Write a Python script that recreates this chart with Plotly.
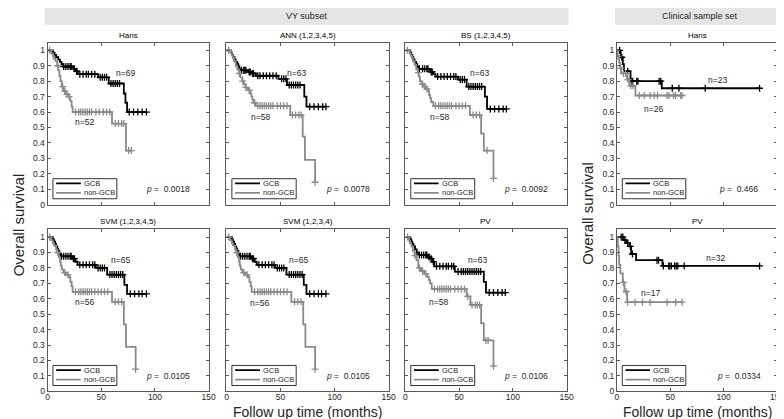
import plotly.graph_objects as go

# ---------------- data ----------------
panel_titles = ["Hans", "ANN (1,2,3,4,5)", "BS (1,2,3,4,5)", "Hans",
                "SVM (1,2,3,4,5)", "SVM (1,2,3,4)", "PV", "PV"]
group_names = ["GCB", "non-GCB"]
gcb_n = [69, 63, 63, 23, 65, 65, 63, 32]
ngcb_n = [52, 58, 58, 26, 56, 56, 58, 17]
p_values = ["0.0018", "0.0078", "0.0092", "0.466", "0.0105", "0.0105", "0.0106", "0.0334"]
header_labels = ["VY subset", "Clinical sample set"]
x_tick_vals = [0, 50, 100, 150]
y_tick_vals = [0, 0.1, 0.2, 0.3, 0.4, 0.5, 0.6, 0.7, 0.8, 0.9, 1]
y_tick_text = ["0", "0.1", "0.2", "0.3", "0.4", "0.5", "0.6", "0.7", "0.8", "0.9", "1"]
x_title = "Follow up time (months)"
y_title = "Overall survival"

# Hans (VY subset)
hans_gcb_t = [5, 6.5, 8, 10, 11.5, 13, 14.5, 24, 26, 28, 47, 57, 71, 72.5, 74]
hans_gcb_s = [0.985, 0.97, 0.955, 0.94, 0.925, 0.91, 0.895, 0.88, 0.865, 0.845, 0.825, 0.785, 0.72, 0.66, 0.60]
hans_gcb_c = [15, 17, 19, 21, 22, 25, 27, 30, 33, 36, 38, 41, 44, 49, 51, 53, 55, 59, 61, 63, 65, 67, 76, 80, 84, 88, 92]
hans_ngcb_t = [3.4, 4.9, 6, 7.4, 8.9, 10.1, 11, 12, 13.2, 15, 17.2, 19.6, 21.2, 22.4, 23.3, 60, 73]
hans_ngcb_s = [0.98, 0.96, 0.945, 0.93, 0.9, 0.87, 0.835, 0.8, 0.765, 0.735, 0.715, 0.70, 0.67, 0.635, 0.60, 0.525, 0.35]
hans_ngcb_c = [2, 9.5, 14, 16, 18, 20, 26, 29, 31, 33, 35, 37, 39, 41, 45, 48, 52, 55, 58, 63, 66, 69, 71, 75.5, 78]

# ANN (1,2,3,4,5)
ann_gcb_t = [4, 5, 6, 7.5, 8.5, 10, 11, 12, 13, 20, 23, 27, 48, 56, 72, 74]
ann_gcb_s = [0.985, 0.97, 0.955, 0.94, 0.925, 0.91, 0.895, 0.88, 0.87, 0.86, 0.85, 0.835, 0.815, 0.775, 0.70, 0.635]
ann_gcb_c = [14, 16, 17, 18, 21, 22, 24, 25, 29, 31, 34, 37, 40, 43, 46, 51, 53, 55, 58, 60, 62, 64, 66, 68, 77, 81, 85, 89, 92]
ann_ngcb_t = [4, 5, 6, 7, 8.5, 10, 11.6, 13, 14.6, 16, 17.7, 19, 20.7, 22, 23, 24, 25, 27, 59, 70.5, 72.6, 82]
ann_ngcb_s = [0.98, 0.965, 0.95, 0.93, 0.9, 0.875, 0.85, 0.825, 0.80, 0.78, 0.76, 0.75, 0.74, 0.72, 0.70, 0.68, 0.66, 0.64, 0.58, 0.44, 0.29, 0.145]
ann_ngcb_c = [2, 12, 15, 18, 21, 26, 29, 31, 33, 35, 37, 39, 41, 43, 47, 50, 53, 56, 61, 64, 67, 69, 82]

# BS (1,2,3,4,5)
bs_gcb_t = [4.6, 5.5, 6.5, 7.5, 8.5, 10, 11, 12, 23, 26, 28, 49, 57, 74, 76]
bs_gcb_s = [0.985, 0.97, 0.955, 0.94, 0.925, 0.91, 0.895, 0.88, 0.86, 0.845, 0.83, 0.81, 0.765, 0.70, 0.62]
bs_gcb_c = [13, 16, 18, 20, 21, 24, 25, 30, 33, 36, 39, 42, 45, 47, 51, 53, 55, 59, 61, 63, 65, 67, 69, 71, 79, 83, 87, 91, 94]
bs_ngcb_t = [4, 5, 6, 7, 8.5, 10, 11.5, 12.5, 13.5, 15, 17, 19, 21, 22, 23, 24, 26, 60, 70.5, 73, 82]
bs_ngcb_s = [0.98, 0.965, 0.95, 0.93, 0.905, 0.88, 0.855, 0.83, 0.80, 0.78, 0.765, 0.75, 0.735, 0.71, 0.69, 0.665, 0.64, 0.58, 0.46, 0.35, 0.17]
bs_ngcb_c = [2, 12, 16, 18, 20, 28, 31, 33, 35, 37, 39, 41, 43, 47, 50, 53, 56, 63, 66, 69, 76, 82]

# Hans (clinical sample set)
chans_gcb_t = [3.5, 5.5, 6.5, 12.7, 42]
chans_gcb_s = [0.955, 0.91, 0.865, 0.80, 0.754]
chans_gcb_c = [2.5, 4.5, 10, 13.3, 14.8, 18.5, 19.7, 39.5, 41, 51.8, 58, 82.7, 133.6]
chans_ngcb_t = [0.5, 2, 3, 4, 9.5, 11.7, 17.3]
chans_ngcb_s = [0.96, 0.92, 0.885, 0.85, 0.81, 0.77, 0.707]
chans_ngcb_c = [1, 3.5, 6, 8, 10.5, 13, 15, 21, 25.6, 31, 35, 38, 47, 48.8, 53, 55, 59.6, 61]

# SVM (1,2,3,4,5)
svm5_gcb_t = [4.9, 6, 7, 8, 9, 10, 11, 12, 23, 26, 28, 45, 55.5, 71.5, 74]
svm5_gcb_s = [0.985, 0.97, 0.955, 0.94, 0.925, 0.91, 0.89, 0.875, 0.86, 0.84, 0.82, 0.80, 0.757, 0.69, 0.632]
svm5_gcb_c = [13, 15, 17, 19, 21, 22, 24, 25, 30, 33, 36, 39, 42, 44, 47, 49, 51, 53, 58, 60, 62, 64, 66, 68, 70, 77, 81, 85, 88, 92]
svm5_ngcb_t = [3.4, 4.9, 6, 7.9, 8.9, 10.4, 11.6, 12.3, 13.2, 14.7, 17.5, 19.9, 21.2, 22.4, 23.3, 60, 71, 73, 82]
svm5_ngcb_s = [0.98, 0.96, 0.945, 0.92, 0.9, 0.87, 0.84, 0.815, 0.79, 0.77, 0.755, 0.74, 0.71, 0.68, 0.645, 0.58, 0.434, 0.288, 0.144]
svm5_ngcb_c = [2, 9.5, 16, 19, 26, 29, 31, 33, 35, 37, 39, 41, 44, 47, 50, 53, 56, 63, 66, 69, 82]

# SVM (1,2,3,4)
svm4_gcb_t = [4.9, 6, 7, 8, 9, 10, 11, 12, 23, 26, 28, 45, 55.5, 71.5, 74]
svm4_gcb_s = [0.985, 0.97, 0.955, 0.94, 0.925, 0.91, 0.89, 0.875, 0.86, 0.84, 0.82, 0.80, 0.757, 0.69, 0.632]
svm4_gcb_c = [13, 15, 17, 19, 21, 22, 24, 25, 30, 33, 36, 39, 42, 44, 47, 49, 51, 53, 58, 60, 62, 64, 66, 68, 70, 77, 81, 85, 88, 92]
svm4_ngcb_t = [3.4, 4.9, 6, 7.9, 8.9, 10.4, 11.6, 12.3, 13.2, 14.7, 17.5, 19.9, 21.2, 22.4, 23.3, 60, 71, 73, 82]
svm4_ngcb_s = [0.98, 0.96, 0.945, 0.92, 0.9, 0.87, 0.84, 0.815, 0.79, 0.77, 0.755, 0.74, 0.71, 0.68, 0.645, 0.58, 0.434, 0.288, 0.144]
svm4_ngcb_c = [2, 9.5, 16, 19, 26, 29, 31, 33, 35, 37, 39, 41, 44, 47, 50, 53, 56, 63, 66, 69, 82]

# PV (VY subset)
pv_gcb_t = [4.6, 5.5, 6.5, 7.5, 9, 10.5, 11.7, 21, 23, 25, 27, 46, 73, 75]
pv_gcb_s = [0.985, 0.97, 0.955, 0.94, 0.92, 0.90, 0.884, 0.87, 0.86, 0.84, 0.81, 0.776, 0.71, 0.64]
pv_gcb_c = [13, 15, 17, 19, 20, 22, 24, 26, 29, 32, 35, 38, 40, 43, 45, 49, 52, 54, 56, 58, 60, 62, 64, 66, 68, 70, 78, 82, 86, 90, 93]
pv_ngcb_t = [3, 4, 5.5, 7, 8.5, 10.5, 12, 14.5, 17.5, 20.5, 22, 23, 24.5, 57, 60.5, 70.5, 73, 82]
pv_ngcb_s = [0.98, 0.96, 0.94, 0.91, 0.88, 0.85, 0.80, 0.78, 0.76, 0.74, 0.72, 0.70, 0.664, 0.615, 0.56, 0.44, 0.33, 0.163]
pv_ngcb_c = [2, 9, 13, 16, 19, 27, 30, 32, 34, 36, 38, 40, 42, 46, 49, 52, 55, 58, 62, 65, 67, 69, 75, 77, 82]

# PV (clinical sample set)
cpv_gcb_t = [6.5, 8.6, 11.7, 13.3, 17.9, 42.6]
cpv_gcb_s = [0.98, 0.96, 0.94, 0.89, 0.85, 0.813]
cpv_gcb_c = [4, 5.5, 7.5, 10, 12.5, 14.5, 37.5, 39, 43.5, 48.5, 49.5, 51, 54, 55.5, 57, 63, 133.6]
cpv_ngcb_t = [0.8, 1.5, 2, 3.2, 5.5, 7, 9.5]
cpv_ngcb_s = [0.94, 0.88, 0.82, 0.765, 0.706, 0.647, 0.578]
cpv_ngcb_c = [6, 8.6, 10, 17, 24, 31, 47, 55, 61]

curves = [
    (hans_gcb_t, hans_gcb_s, hans_gcb_c, hans_ngcb_t, hans_ngcb_s, hans_ngcb_c),
    (ann_gcb_t, ann_gcb_s, ann_gcb_c, ann_ngcb_t, ann_ngcb_s, ann_ngcb_c),
    (bs_gcb_t, bs_gcb_s, bs_gcb_c, bs_ngcb_t, bs_ngcb_s, bs_ngcb_c),
    (chans_gcb_t, chans_gcb_s, chans_gcb_c, chans_ngcb_t, chans_ngcb_s, chans_ngcb_c),
    (svm5_gcb_t, svm5_gcb_s, svm5_gcb_c, svm5_ngcb_t, svm5_ngcb_s, svm5_ngcb_c),
    (svm4_gcb_t, svm4_gcb_s, svm4_gcb_c, svm4_ngcb_t, svm4_ngcb_s, svm4_ngcb_c),
    (pv_gcb_t, pv_gcb_s, pv_gcb_c, pv_ngcb_t, pv_ngcb_s, pv_ngcb_c),
    (cpv_gcb_t, cpv_gcb_s, cpv_gcb_c, cpv_ngcb_t, cpv_ngcb_s, cpv_ngcb_c),
]

# ---------------- layout / style ----------------
W, H = 784, 419
FONT = "Liberation Sans, Arial, Helvetica, sans-serif"
BLACK = "#000000"
GRAY = "#8a8a8a"
AXC = "#5a5a5a"
TXT = "#262626"

col_px = [(38, 201), (219, 383), (400, 563), (614, 776)]
row_px = [(35, 199), (224, 388)]
# panel index -> (row, col)
panel_pos = [(0, 0), (0, 1), (0, 2), (0, 3), (1, 0), (1, 1), (1, 2), (1, 3)]
# label placement in data units (x, y) for n labels and p text
n_gcb_pos = [(73, 0.85), (65, 0.85), (69, 0.85), (94, 0.807), (68, 0.854), (67, 0.85), (67.5, 0.85), (92.6, 0.865)]
n_ngcb_pos = [(34, 0.535), (31.4, 0.57), (32, 0.57), (34, 0.62), (34, 0.578), (31, 0.572), (31, 0.58), (31, 0.636)]
p_pos = [(112, 0.1)] * 3 + [(114, 0.1)] + [(112, 0.1)] * 3 + [(114, 0.1)]


def surv_at(ts, ss, tc):
    v = 1.0
    for t, s in zip(ts, ss):
        if t <= tc:
            v = s
    return v


def step_xy(ts, ss, cs):
    end = max([ts[-1]] + list(cs))
    return [0] + list(ts) + [end], [1.0] + list(ss) + [ss[-1]]


fig = go.Figure()
layout = dict(
    width=W, height=H, autosize=False,
    margin=dict(l=0, r=0, t=0, b=0),
    paper_bgcolor="white", plot_bgcolor="white",
    showlegend=False,
    font=dict(family=FONT, size=8, color=TXT),
)
shapes = []
annotations = []

for i in range(8):
    r, c = panel_pos[i]
    k = "" if i == 0 else str(i + 1)
    xa, ya = "x" + k, "y" + k
    x0, x1 = col_px[c]
    t0, b0 = row_px[r]
    layout["xaxis" + k] = dict(
        domain=[x0 / W, x1 / W], anchor=ya, range=[0, 150],
        tickvals=x_tick_vals, showticklabels=(r == 1), ticklabelstandoff=-3,
        ticks="inside", ticklen=3, tickcolor=AXC, tickwidth=1,
        showline=True, linecolor=AXC, linewidth=1, mirror="ticks",
        showgrid=False, zeroline=False, fixedrange=True,
        tickfont=dict(size=8.5, color=TXT, family=FONT),
    )
    layout["yaxis" + k] = dict(
        domain=[1 - b0 / H, 1 - t0 / H], anchor=xa, range=[0, 1.05],
        tickvals=y_tick_vals, ticktext=y_tick_text, showticklabels=(c in (0, 3)),
        ticks="inside", ticklen=3, tickcolor=AXC, tickwidth=1,
        showline=True, linecolor=AXC, linewidth=1, mirror="ticks",
        showgrid=False, zeroline=False, fixedrange=True,
        tickfont=dict(size=8.5, color=TXT, family=FONT),
    )
    gt, gs, gc, nt, ns, nc = curves[i]
    for ts, ss, cs, col in ((gt, gs, gc, BLACK), (nt, ns, nc, GRAY)):
        sx, sy = step_xy(ts, ss, cs)
        fig.add_trace(go.Scatter(x=sx, y=sy, mode="lines", line=dict(color=col, width=1.8, shape="hv"),
                                 xaxis=xa, yaxis=ya, hoverinfo="skip"))
        fig.add_trace(go.Scatter(x=cs, y=[surv_at(ts, ss, t) for t in cs], mode="markers",
                                 marker=dict(symbol="cross-thin", size=5, line=dict(color=col, width=1.3)),
                                 xaxis=xa, yaxis=ya, hoverinfo="skip"))
    # title
    annotations.append(dict(text=panel_titles[i], xref="paper", yref="paper",
                            x=(x0 + x1) / 2 / W, y=1 - (t0 - 1) / H, xanchor="center", yanchor="bottom",
                            showarrow=False, font=dict(size=8, color=BLACK, family=FONT)))
    # n labels
    annotations.append(dict(text="n=%d" % gcb_n[i], xref=xa, yref=ya, x=n_gcb_pos[i][0], y=n_gcb_pos[i][1],
                            showarrow=False, font=dict(size=8.5, color=TXT, family=FONT)))
    annotations.append(dict(text="n=%d" % ngcb_n[i], xref=xa, yref=ya, x=n_ngcb_pos[i][0], y=n_ngcb_pos[i][1],
                            showarrow=False, font=dict(size=8.5, color=TXT, family=FONT)))
    # p value
    annotations.append(dict(text="<i>p</i> =  " + p_values[i], xref=xa, yref=ya, x=p_pos[i][0], y=p_pos[i][1],
                            showarrow=False, font=dict(size=8.5, color=TXT, family=FONT)))
    # legend box
    shapes.append(dict(type="rect", xref=xa, yref=ya, x0=5, x1=64.5, y0=0.038, y1=0.168,
                       line=dict(color="#333333", width=1), fillcolor="white", layer="above"))
    for j, (col, yy) in enumerate(((BLACK, 0.138), (GRAY, 0.076))):
        shapes.append(dict(type="line", xref=xa, yref=ya, x0=8, x1=31, y0=yy, y1=yy,
                           line=dict(color=col, width=1.8), layer="above"))
        annotations.append(dict(text=group_names[j], xref=xa, yref=ya, x=32, y=yy, xanchor="left",
                                yanchor="middle", showarrow=False, font=dict(size=7.5, color=TXT, family=FONT)))

# headers
for lab, (hx0, hx1) in zip(header_labels, [(35, 565), (612, 784)]):
    shapes.append(dict(type="rect", xref="paper", yref="paper", x0=hx0 / W, x1=hx1 / W,
                       y0=1 - 17 / H, y1=1, fillcolor="#e5e5e5", line=dict(width=0), layer="below"))
    annotations.append(dict(text=lab, xref="paper", yref="paper", x=(hx0 + hx1) / 2 / W, y=1 - 8.5 / H,
                            xanchor="center", yanchor="middle", showarrow=False,
                            font=dict(size=9, color=TXT, family=FONT)))

# axis titles
for xc in (301, 695):
    annotations.append(dict(text=x_title, xref="paper", yref="paper", x=xc / W, y=0,
                            xanchor="center", yanchor="bottom", showarrow=False,
                            font=dict(size=14, color=TXT, family=FONT)))
for xc, yc in ((8, 219), (584, 208)):
    annotations.append(dict(text=y_title, xref="paper", yref="paper", x=xc / W, y=1 - yc / H,
                            xanchor="center", yanchor="middle", textangle=-90, showarrow=False,
                            font=dict(size=15, color=TXT, family=FONT)))

layout["shapes"] = shapes
layout["annotations"] = annotations
fig.update_layout(**layout)
fig.write_html("out.html")
